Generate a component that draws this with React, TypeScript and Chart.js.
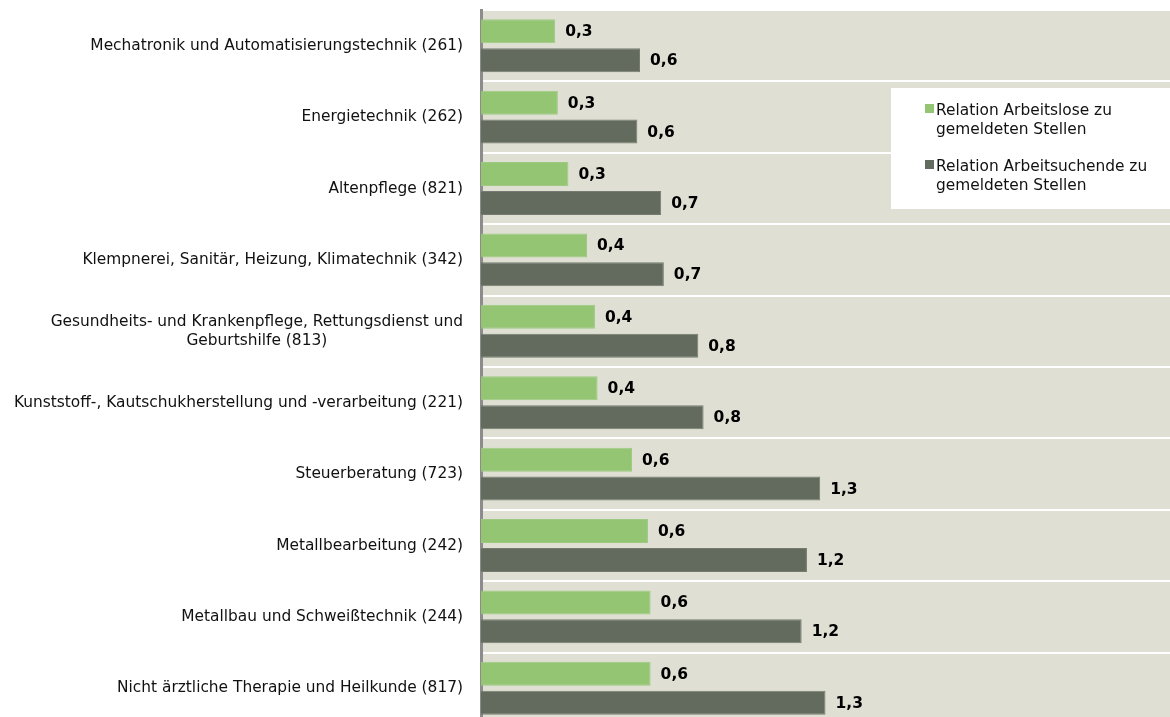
import React, { useEffect, useRef } from 'react';
import { Chart, registerables } from 'chart.js';

Chart.register(...registerables);

const categories: string[][] = [
  ['Mechatronik und Automatisierungstechnik (261)'],
  ['Energietechnik (262)'],
  ['Altenpflege (821)'],
  ['Klempnerei, Sanitär, Heizung, Klimatechnik (342)'],
  ['Gesundheits- und Krankenpflege, Rettungsdienst und', 'Geburtshilfe (813)'],
  ['Kunststoff-, Kautschukherstellung und -verarbeitung (221)'],
  ['Steuerberatung (723)'],
  ['Metallbearbeitung (242)'],
  ['Metallbau und Schweißtechnik (244)'],
  ['Nicht ärztliche Therapie und Heilkunde (817)'],
];

const arbeitslose = [0.28, 0.29, 0.33, 0.4, 0.43, 0.44, 0.57, 0.63, 0.64, 0.64];
const arbeitsuchende = [0.6, 0.59, 0.68, 0.69, 0.82, 0.84, 1.28, 1.23, 1.21, 1.3];

const seriesNames = [
  'Relation Arbeitslose zu gemeldeten Stellen',
  'Relation Arbeitsuchende zu gemeldeten Stellen',
];
const legendLines: string[][] = [
  ['Relation Arbeitslose zu', 'gemeldeten Stellen'],
  ['Relation Arbeitsuchende zu', 'gemeldeten Stellen'],
];

const GREEN = '#93c573';
const DARK = '#636b5f';
const PLOT_BG = '#dfe0d3';
const LABEL_FONT = '15.4px "DejaVu Sans", sans-serif';
const VALUE_FONT = 'bold 15.5px "DejaVu Sans", sans-serif';

const fmt = (v: number) => v.toFixed(1).replace('.', ',');

const bgPlugin = {
  id: 'plotBg',
  beforeDraw(chart: any) {
    const { ctx, chartArea } = chart;
    ctx.save();
    ctx.fillStyle = PLOT_BG;
    ctx.fillRect(chartArea.left, chartArea.top, chartArea.right - chartArea.left, chartArea.bottom - chartArea.top);
    ctx.restore();
  },
};

const labelsPlugin = {
  id: 'catLabels',
  afterDraw(chart: any) {
    const { ctx, chartArea } = chart;
    const yScale = chart.scales.y;
    ctx.save();
    ctx.font = LABEL_FONT;
    ctx.fillStyle = '#111111';
    ctx.textBaseline = 'middle';
    ctx.textAlign = 'center';
    const right = chartArea.left - 18;
    const lh = 18.5;
    categories.forEach((lines, i) => {
      const yc = yScale.getPixelForValue(i);
      const widest = Math.max(...lines.map((l) => ctx.measureText(l).width));
      const cx = right - widest / 2;
      const y0 = yc - ((lines.length - 1) * lh) / 2;
      lines.forEach((l, j) => ctx.fillText(l, cx, y0 + j * lh));
    });
    ctx.restore();
  },
};

const valuesPlugin = {
  id: 'valueLabels',
  afterDatasetsDraw(chart: any) {
    const { ctx } = chart;
    ctx.save();
    ctx.font = VALUE_FONT;
    ctx.fillStyle = '#000';
    ctx.textBaseline = 'middle';
    ctx.textAlign = 'left';
    chart.data.datasets.forEach((ds: any, di: number) => {
      const meta = chart.getDatasetMeta(di);
      meta.data.forEach((bar: any, i: number) => {
        ctx.fillText(fmt(ds.data[i]), bar.x + 10, bar.y + 1);
      });
    });
    ctx.restore();
  },
};

const legendPlugin = {
  id: 'customLegend',
  afterDraw(chart: any) {
    const { ctx, chartArea } = chart;
    const bx = chartArea.left + 410;
    const by = chartArea.top + 78;
    ctx.save();
    ctx.fillStyle = '#ffffff';
    ctx.fillRect(bx, by, chartArea.right - bx, 121);
    ctx.font = LABEL_FONT;
    ctx.textBaseline = 'middle';
    ctx.textAlign = 'left';
    chart.data.datasets.forEach((ds: any, di: number) => {
      const ty = by + 23 + di * 56;
      ctx.fillStyle = ds.backgroundColor;
      ctx.fillRect(bx + 34, ty - 7, 9, 9);
      ctx.fillStyle = '#111111';
      legendLines[di].forEach((l, j) => ctx.fillText(l, bx + 45, ty + j * 18.5));
    });
    ctx.restore();
  },
};

export default function App() {
  const ref = useRef<HTMLCanvasElement>(null);
  useEffect(() => {
    document.body.style.overflow = 'hidden';
    const chart = new Chart(ref.current!, {
      type: 'bar',
      data: {
        labels: categories.map((c) => c.join(' ')),
        datasets: [
          {
            label: seriesNames[0],
            data: arbeitslose,
            backgroundColor: GREEN,
            borderColor: '#9dca80',
            borderWidth: 1,
            categoryPercentage: 0.81,
            barPercentage: 0.83,
          },
          {
            label: seriesNames[1],
            data: arbeitsuchende,
            backgroundColor: DARK,
            borderColor: '#767b71',
            borderWidth: 1,
            categoryPercentage: 0.81,
            barPercentage: 0.83,
          },
        ],
      },
      options: {
        indexAxis: 'y',
        animation: false,
        responsive: false,
        layout: { padding: { left: 481, top: 10, right: 0, bottom: 0 } },
        plugins: { legend: { display: false }, tooltip: { enabled: false } },
        scales: {
          x: { display: false, min: 0, max: 2.6 },
          y: {
            afterFit: (s: any) => {
              s.width = 0;
            },
            ticks: { display: false },
            grid: { offset: true, color: '#ffffff', lineWidth: 2, drawTicks: false },
            border: { display: true, color: '#8c8c8c', width: 3 },
          },
        },
      },
      plugins: [bgPlugin, labelsPlugin, valuesPlugin, legendPlugin],
    });
    return () => chart.destroy();
  }, []);
  return (
    <div style={{ position: 'fixed', left: 0, top: 0, width: 1170, height: 724, background: '#fff' }}>
      <canvas ref={ref} width={1170} height={724} style={{ display: 'block' }} />
    </div>
  );
}
